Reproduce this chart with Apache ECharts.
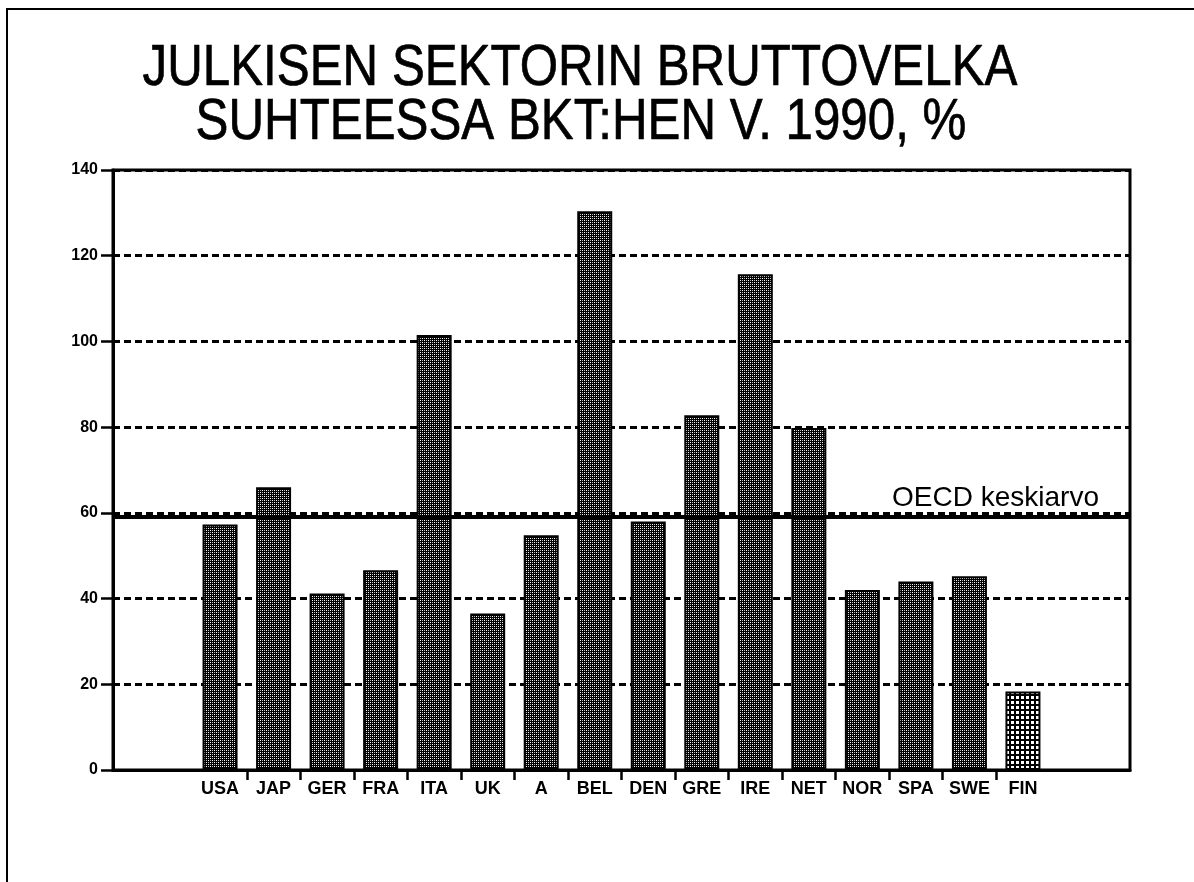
<!DOCTYPE html>
<html lang="fi">
<head>
<meta charset="UTF-8">
<title>Julkisen sektorin bruttovelka</title>
<script src="https://cdn.jsdelivr.net/npm/echarts@6/dist/echarts.min.js"></script>
<style>html,body{margin:0;padding:0;background:#fff;}</style>
</head>
<body>
<div id="main" style="width:1194px;height:882px;"></div>
<script>
// maat ja velka-% BKT:sta (luettu kuvasta)
var maat = ['USA', 'JAP', 'GER', 'FRA', 'ITA', 'UK', 'A', 'BEL', 'DEN', 'GRE', 'IRE', 'NET', 'NOR', 'SPA', 'SWE', 'FIN'];
var velka = [57.3, 66.0, 41.2, 46.6, 101.5, 36.5, 54.8, 130.4, 58.0, 82.8, 115.7, 79.8, 42.0, 44.0, 45.2, 18.3];
var oecdKeskiarvo = 59;
var yMax = 140, yVali = 20;
var otsikko = ['JULKISEN SEKTORIN BRUTTOVELKA', 'SUHTEESSA BKT:HEN V. 1990, %'];
var korostettu = 'FIN';

var fontti = '"Liberation Sans", Arial, Helvetica, sans-serif';

// rasterikuviot pylväisiin
function kuvio(koko, piirra) {
  var c = document.createElement('canvas');
  c.width = koko; c.height = koko;
  var g = c.getContext('2d');
  g.fillStyle = '#000';
  g.fillRect(0, 0, koko, koko);
  g.fillStyle = '#fff';
  piirra(g);
  return { image: c, repeat: 'repeat' };
}
var tumma = kuvio(4, function (g) {
  g.fillRect(0, 0, 1, 1); g.fillRect(2, 2, 1, 1);
  g.fillStyle = '#bbb';
  g.fillRect(2, 0, 1, 1); g.fillRect(0, 2, 1, 1);
});
var vaalea = kuvio(5, function (g) { g.fillRect(1, 1, 3, 3); });

var alku = 2;                       // tyhjää ennen ensimmäistä pylvästä
var xMax = maat.length + 3;
var pylvaat = velka.map(function (v, i) {
  var d = { value: [i + alku, v] };
  if (maat[i] === korostettu) d.itemStyle = { color: vaalea };
  return d;
});
var viivat = maat.slice(1).map(function (m, i) { return i + alku + 0.5; });
var nimet = maat.map(function (m, i) { return i + alku; });

var myChart = echarts.init(document.getElementById('main'));
myChart.setOption({
  animation: false,
  backgroundColor: '#fff',
  graphic: [
    { type: 'rect', shape: { x: 7, y: 9, width: 1210, height: 900 }, style: { fill: 'none', stroke: '#000', lineWidth: 2 } },
    { type: 'text', x: 580, y: 69, scaleX: 0.85,
      style: { text: otsikko[0], font: '58px ' + fontti, fill: '#000', stroke: '#000', lineWidth: 0.7,
        textAlign: 'center', textVerticalAlign: 'middle' } },
    { type: 'text', x: 581, y: 123, scaleX: 0.85,
      style: { text: otsikko[1], font: '58px ' + fontti, fill: '#000', stroke: '#000', lineWidth: 0.7,
        textAlign: 'center', textVerticalAlign: 'middle' } }
  ],
  grid: { left: 113, right: 64, top: 170, bottom: 112, show: true, borderColor: '#000', borderWidth: 3 },
  xAxis: {
    type: 'value', min: 0, max: xMax,
    splitLine: { show: false },
    axisLine: { lineStyle: { color: '#000', width: 3 } },
    axisTick: { customValues: viivat, length: 10, lineStyle: { color: '#000', width: 2.5 } },
    axisLabel: {
      customValues: nimet, margin: 10,
      formatter: function (v) { return maat[v - alku]; },
      color: '#000', fontFamily: fontti, fontWeight: 'bold', fontSize: 18
    }
  },
  yAxis: {
    type: 'value', min: 0, max: yMax, interval: yVali,
    axisLine: { show: true, lineStyle: { color: '#000', width: 3 } },
    axisTick: { show: true, length: 12, lineStyle: { color: '#000', width: 2.5 } },
    axisLabel: { margin: 15, color: '#000', fontFamily: fontti, fontWeight: 'bold', fontSize: 16 },
    splitLine: { lineStyle: { color: '#000', width: 3, type: [7, 4] } }
  },
  series: [{
    type: 'bar',
    barWidth: 35,
    data: pylvaat,
    itemStyle: { color: tumma, borderColor: '#000', borderWidth: 2 },
    markLine: {
      silent: true,
      symbol: 'none',
      lineStyle: { color: '#000', width: 4, type: 'solid' },
      label: {
        show: true, position: 'insideEndTop', formatter: 'OECD keskiarvo',
        color: '#000', fontFamily: fontti, fontSize: 28, padding: [0, 26, 0, 0]
      },
      data: [[{ coord: [0, oecdKeskiarvo] }, { coord: [xMax, oecdKeskiarvo] }]]
    }
  }]
});
</script>
</body>
</html>
